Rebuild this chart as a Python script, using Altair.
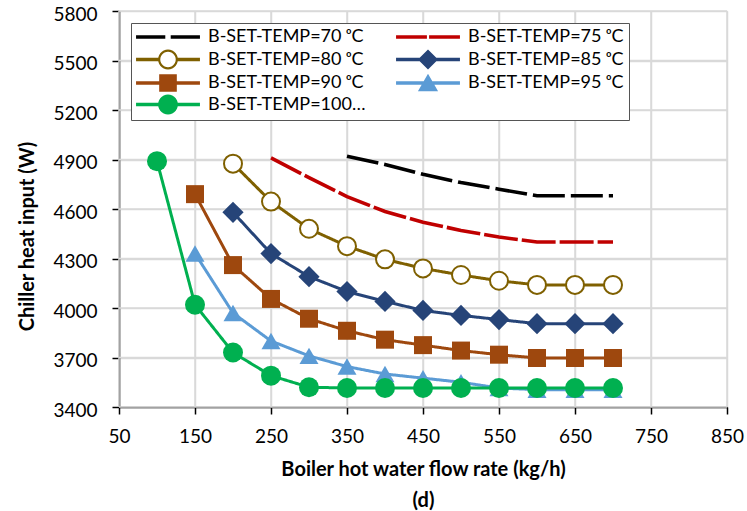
import math

import altair as alt
import pandas as pd

# Boiler hot water flow rate (kg/h) and chiller heat input (W) per boiler set temperature
temps = [70, 75, 80, 85, 90, 95, 100]

flow_70 = [350, 400, 450, 500, 550, 600, 650, 700]
heat_70 = [4920, 4870, 4810, 4760, 4720, 4680, 4680, 4680]

flow_75 = [250, 300, 350, 400, 450, 500, 550, 600, 650, 700]
heat_75 = [4910, 4790, 4675, 4585, 4520, 4470, 4430, 4400, 4400, 4400]

flow_80 = [200, 250, 300, 350, 400, 450, 500, 550, 600, 650, 700]
heat_80 = [4875, 4645, 4480, 4375, 4295, 4240, 4200, 4165, 4140, 4140, 4140]

flow_85 = [200, 250, 300, 350, 400, 450, 500, 550, 600, 650, 700]
heat_85 = [4580, 4330, 4190, 4100, 4040, 3985, 3955, 3930, 3905, 3905, 3905]

flow_90 = [150, 200, 250, 300, 350, 400, 450, 500, 550, 600, 650, 700]
heat_90 = [4690, 4260, 4055, 3935, 3862, 3808, 3775, 3742, 3717, 3697, 3697, 3697]

flow_95 = [150, 200, 250, 300, 350, 400, 450, 500, 550, 600, 650, 700]
heat_95 = [4330, 3970, 3800, 3710, 3645, 3600, 3575, 3550, 3515, 3505, 3505, 3505]

flow_100 = [100, 150, 200, 250, 300, 350, 400, 450, 500, 550, 600, 650, 700]
heat_100 = [4890, 4020, 3730, 3590, 3520, 3515, 3515, 3515, 3515, 3515, 3515, 3515, 3515]

flows = [flow_70, flow_75, flow_80, flow_85, flow_90, flow_95, flow_100]
heats = [heat_70, heat_75, heat_80, heat_85, heat_90, heat_95, heat_100]

x_ticks = [50, 150, 250, 350, 450, 550, 650, 750, 850]
y_ticks = [3400, 3700, 4000, 4300, 4600, 4900, 5200, 5500, 5800]

labels = [f"B-SET-TEMP={t} \u1d52C" for t in temps]
codes = [str(t) for t in temps]

# styling per series
line_colors = ["#000000", "#c00000", "#7f6000", "#264478", "#9e480e", "#5b9bd5", "#00b050"]
dashes = [[32, 6], [34, 4], [1, 0], [1, 0], [1, 0], [1, 0], [1, 0]]
GRID = "#d9d9d9"

# markers drawn on top of the lines (series index, shape, size, fill, stroke width)
markers = [
    (2, "circle", 324, "#ffffff", 2),
    (3, "diamond", 450, None, 0),
    (4, "square", 324, None, 0),
    (5, "triangle-up", 360, None, 0),
    (6, "circle", 400, None, 0),
]


# legend glyphs as filled outlines (line + marker), in units of half the symbol size
def poly(points):
    return "M" + "L".join(f"{x:.3f},{y:.3f}" for x, y in points) + "Z"


def bar(x0, x1, h=0.19):
    return poly([(x0, -h), (x1, -h), (x1, h), (x0, h)])


def disc(r, clockwise=True, n=28):
    step = 2 * math.pi / n
    pts = [(r * math.cos(i * step), r * math.sin(i * step)) for i in range(n)]
    return poly(pts if clockwise else pts[::-1])


legend_paths = [
    bar(-3.55, -0.3, 0.2) + bar(0.3, 3.55, 0.2),
    bar(-3.55, -0.12, 0.2) + bar(0.12, 3.55, 0.2),
    bar(-3.55, -1.0) + bar(1.0, 3.55) + disc(1.1) + disc(0.86, clockwise=False),
    bar(-3.55, 3.55) + poly([(0, -1.12), (1.12, 0), (0, 1.12), (-1.12, 0)]),
    bar(-3.55, 3.55) + poly([(-0.98, -0.98), (0.98, -0.98), (0.98, 0.98), (-0.98, 0.98)]),
    bar(-3.55, 3.55) + poly([(0, -1.02), (1.12, 0.92), (-1.12, 0.92)]),
    bar(-3.55, 3.55) + disc(1.1),
]

rows = []
for name, code, fx, hy in zip(labels, codes, flows, heats):
    for f, h in zip(fx, hy):
        rows.append({"series": name, "code": code, "flow": f, "heat": h})
df = pd.DataFrame(rows)

FONT = "Lato"

legend = alt.Legend(
    title=None,
    orient="none",
    legendX=12,
    legendY=12,
    direction="horizontal",
    columns=2,
    columnPadding=30,
    rowPadding=2.5,
    padding=5,
    fillColor="#ffffff",
    strokeColor="#555555",
    labelFont=FONT,
    labelFontSize=18,
    labelColor="#000000",
    symbolSize=324,
    symbolStrokeWidth=0,
    symbolOffset=23,
    labelOffset=31,
)

axis_common = dict(
    titleFont=FONT,
    titleFontSize=20,
    titleFontWeight="bold",
    titleColor="#000000",
    labelFont=FONT,
    labelFontSize=19,
    labelColor="#000000",
    labelFlush=False,
    labelOverlap=False,
    tickSize=7,
    tickWidth=1.5,
    tickColor="#000000",
    domainColor="#000000",
    domainWidth=1.5,
    grid=True,
    gridColor=GRID,
    gridWidth=1.5,
    format="d",
)

x_axis = alt.Axis(
    values=x_ticks,
    title=["Boiler hot water flow rate (kg/h)", "(d)"],
    titleBaseline="top",
    titleY=52,
    titleLineHeight=31,
    labelPadding=13,
    **axis_common,
)

y_axis = alt.Axis(
    values=y_ticks,
    title="Chiller heat input (W)",
    titleAngle=-90,
    titleAlign="center",
    titleBaseline="middle",
    titleX=-92,
    titleY=225,
    labelPadding=15,
    labelOffset=3,
    **axis_common,
)

x_scale = alt.Scale(domain=[x_ticks[0], x_ticks[-1]], nice=False, zero=False)
y_scale = alt.Scale(domain=[y_ticks[0], y_ticks[-1]], nice=False, zero=False)
x_enc = alt.X("flow:Q", scale=x_scale, axis=x_axis)
y_enc = alt.Y("heat:Q", scale=y_scale, axis=y_axis)

# gridlines at every tick, spanning the full scale range
grid_x = (
    alt.Chart(pd.DataFrame({"flow": x_ticks}))
    .mark_rule(color=GRID, strokeWidth=1.5)
    .encode(x=x_enc, y=alt.Y(datum=y_ticks[0], scale=y_scale, axis=y_axis), y2=alt.Y2(datum=y_ticks[-1]))
)
grid_y = (
    alt.Chart(pd.DataFrame({"heat": y_ticks}))
    .mark_rule(color=GRID, strokeWidth=1.5)
    .encode(y=y_enc, x=alt.X(datum=x_ticks[0], scale=x_scale, axis=x_axis), x2=alt.X2(datum=x_ticks[-1]))
)

line_stroke = alt.Stroke("code:N", scale=alt.Scale(domain=codes, range=line_colors), legend=None)
line_dash = alt.StrokeDash("code:N", scale=alt.Scale(domain=codes, range=dashes), legend=None)

dashed_lines = (
    alt.Chart(df)
    .transform_filter(alt.FieldOneOfPredicate(field="code", oneOf=codes[:2]))
    .mark_line(strokeWidth=3.6)
    .encode(x=x_enc, y=y_enc, stroke=line_stroke, strokeDash=line_dash)
)
solid_lines = (
    alt.Chart(df)
    .transform_filter(alt.FieldOneOfPredicate(field="code", oneOf=codes[2:]))
    .mark_line(strokeWidth=3)
    .encode(x=x_enc, y=y_enc, stroke=line_stroke, strokeDash=line_dash)
)

point_layers = []
for idx, shape, size, fill, sw in markers:
    col = line_colors[idx]
    point_layers.append(
        alt.Chart(df)
        .transform_filter(alt.datum.code == codes[idx])
        .mark_point(
            shape=shape,
            size=size,
            filled=True,
            fill=fill if fill else col,
            stroke=col,
            strokeWidth=sw,
            opacity=1,
        )
        .encode(x=x_enc, y=y_enc)
    )

# legend carrier: no visible marks, only the colour/shape scales for the key
key = (
    alt.Chart(df)
    .transform_filter(alt.datum.flow < 0)
    .mark_point(filled=True, opacity=1)
    .encode(
        x=x_enc,
        y=y_enc,
        color=alt.Color("series:N", scale=alt.Scale(domain=labels, range=line_colors), legend=legend),
        shape=alt.Shape("series:N", scale=alt.Scale(domain=labels, range=legend_paths), legend=legend),
    )
)

chart = (
    alt.layer(grid_x, grid_y, dashed_lines, solid_lines, *point_layers, key)
    .properties(
        width=608,
        height=396,
        autosize=alt.AutoSizeParams(type="none"),
        padding={"left": 119, "top": 11, "right": 20, "bottom": 104},
        background="#ffffff",
    )
    .configure_view(stroke=None)
)

chart.save("out.html", embed_options={"renderer": "svg", "actions": False})
